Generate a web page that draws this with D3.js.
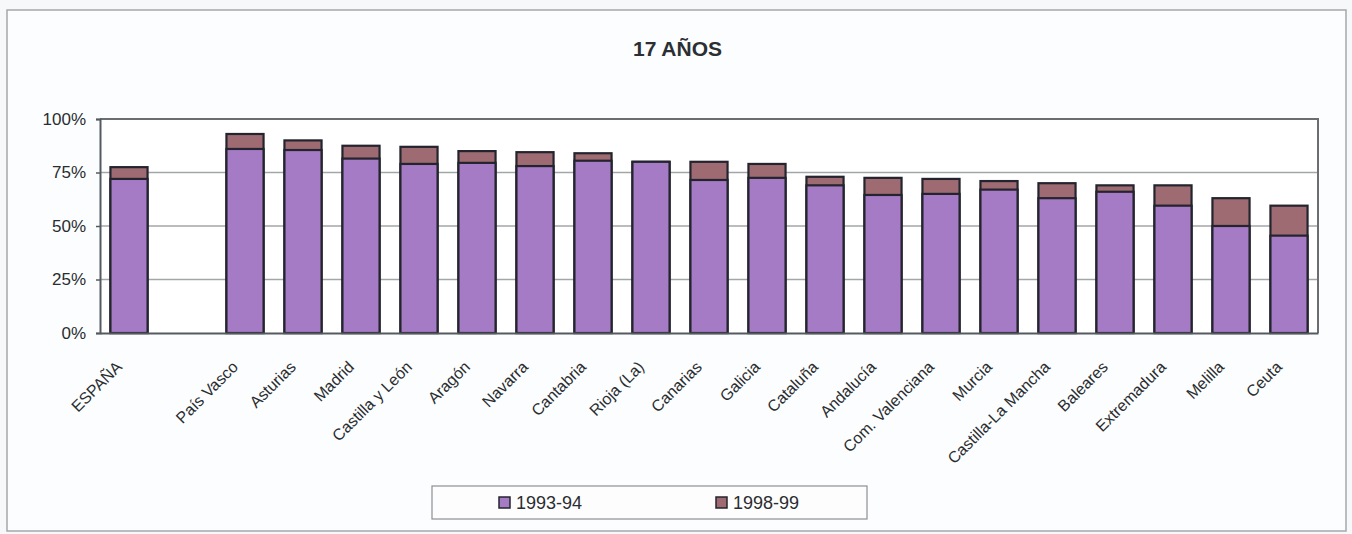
<!DOCTYPE html>
<html>
<head>
<meta charset="utf-8">
<script src="https://cdn.jsdelivr.net/npm/d3@7/dist/d3.min.js"></script>
<style>
  html, body { margin: 0; padding: 0; background: #f6f8fa; }
  svg { display: block; font-family: "Liberation Sans", Arial, sans-serif; }
</style>
</head>
<body>
<svg id="chart" width="1352" height="534"></svg>
<script>
// Tasa de escolarización a los 17 años por comunidad autónoma
const categories = ["ESPAÑA", "País Vasco", "Asturias", "Madrid", "Castilla y León", "Aragón",
  "Navarra", "Cantabria", "Rioja (La)", "Canarias", "Galicia", "Cataluña", "Andalucía",
  "Com. Valenciana", "Murcia", "Castilla-La Mancha", "Baleares", "Extremadura", "Melilla", "Ceuta"];
const values9394 = [72, 86, 85.5, 81.5, 79, 79.5, 78, 80.5, 80, 71.5, 72.5, 69, 64.5,
  65, 67, 63, 66, 59.5, 50, 45.5];
const values9899 = [77.5, 93, 90, 87.5, 87, 85, 84.5, 84, 80, 80, 79, 73, 72.5,
  72, 71, 70, 69, 69, 63, 59.5];
const seriesNames = ["1993-94", "1998-99"];
const yTicks = [0, 25, 50, 75, 100];

const colors = { "1993-94": "#a67bc6", "1998-99": "#9d6b71" };
const outline = "#24242e";
const textColor = "#2a2d30";

const svg = d3.select("#chart");

// Outer frame
svg.append("rect")
  .attr("x", 7).attr("y", 10).attr("width", 1339).attr("height", 521)
  .attr("fill", "#fcfdfe").attr("stroke", "#a4a8ac").attr("stroke-width", 1.5);

const plot = { left: 100, right: 1318, top: 119, bottom: 333 };

// Spain is set apart from the regions by an empty slot
const spacer = "\u00a0";
const domain = [categories[0], spacer, ...categories.slice(1)];

const x = d3.scaleBand()
  .domain(domain)
  .range([plot.left, plot.right])
  .paddingInner(0.36)
  .paddingOuter(0.18);

const y = d3.scaleLinear().domain([0, 100]).range([plot.bottom, plot.top]);

// Plot area
svg.append("rect")
  .attr("x", plot.left).attr("y", plot.top)
  .attr("width", plot.right - plot.left).attr("height", plot.bottom - plot.top)
  .attr("fill", "#ffffff");

// Gridlines
svg.append("g")
  .selectAll("line")
  .data(yTicks.filter(t => t > 0 && t < 100))
  .join("line")
  .attr("x1", plot.left).attr("x2", plot.right)
  .attr("y1", d => y(d)).attr("y2", d => y(d))
  .attr("stroke", "#a3a6a9").attr("stroke-width", 1.5);

// Plot border (top and right)
svg.append("path")
  .attr("d", `M${plot.left},${y(100)}H${plot.right}V${plot.bottom}`)
  .attr("fill", "none").attr("stroke", "#6a6e72").attr("stroke-width", 2);

// Y axis
const yAxis = d3.axisLeft(y)
  .tickValues(yTicks)
  .tickFormat(d => d + "%")
  .tickSize(4)
  .tickPadding(10);
const gy = svg.append("g")
  .attr("transform", `translate(${plot.left},0)`)
  .call(yAxis);
gy.select(".domain").attr("stroke", "#555a60").attr("stroke-width", 2);
gy.selectAll(".tick line").attr("stroke", "#555a60").attr("stroke-width", 1.5);
gy.selectAll(".tick text")
  .attr("fill", textColor)
  .style("font-size", "17px")
  .style("font-family", "'Liberation Sans', Arial, sans-serif");

// Bars: the 1998-99 bar sits behind the 1993-94 bar
const rows = categories.map((c, i) => ({ cat: c, a: values9394[i], b: values9899[i] }));

svg.append("g")
  .selectAll("rect")
  .data(rows)
  .join("rect")
  .attr("x", d => x(d.cat))
  .attr("width", x.bandwidth())
  .attr("y", d => y(d.b))
  .attr("height", d => y(0) - y(d.b))
  .attr("fill", colors["1998-99"])
  .attr("stroke", outline).attr("stroke-width", 2.2);

svg.append("g")
  .selectAll("rect")
  .data(rows)
  .join("rect")
  .attr("x", d => x(d.cat))
  .attr("width", x.bandwidth())
  .attr("y", d => y(d.a))
  .attr("height", d => y(0) - y(d.a))
  .attr("fill", colors["1993-94"])
  .attr("stroke", outline).attr("stroke-width", 2.2);

// X axis
const xAxis = d3.axisBottom(x).tickSize(0).tickFormat(d => d === spacer ? "" : d);
const gx = svg.append("g")
  .attr("transform", `translate(0,${plot.bottom})`)
  .call(xAxis);
gx.select(".domain").attr("stroke", "#555a60").attr("stroke-width", 2);
gx.selectAll(".tick text")
  .attr("fill", textColor)
  .attr("text-anchor", "end")
  .attr("y", 0).attr("dy", 0)
  .attr("transform", "translate(-6,35) rotate(-45)")
  .style("font-size", "16px")
  .style("font-family", "'Liberation Sans', Arial, sans-serif");

// Title
svg.append("text")
  .attr("x", 677.5).attr("y", 56)
  .attr("text-anchor", "middle")
  .attr("fill", "#2b2f33")
  .style("font-size", "21px")
  .style("font-weight", "bold")
  .text("17 AÑOS");

// Legend
const legend = svg.append("g");
legend.append("rect")
  .attr("x", 432).attr("y", 486).attr("width", 435).attr("height", 33)
  .attr("fill", "#fdfdfe").attr("stroke", "#8c9094").attr("stroke-width", 1.2);

const legendX = [499, 716];
const item = legend.selectAll("g.item")
  .data(seriesNames)
  .join("g")
  .attr("class", "item")
  .attr("transform", (d, i) => `translate(${legendX[i]},497)`);
item.append("rect")
  .attr("width", 11).attr("height", 11)
  .attr("fill", d => colors[d])
  .attr("stroke", outline).attr("stroke-width", 1.5);
item.append("text")
  .attr("x", 17).attr("y", 11.5)
  .attr("fill", textColor)
  .style("font-size", "18px")
  .text(d => d);
</script>
</body>
</html>
